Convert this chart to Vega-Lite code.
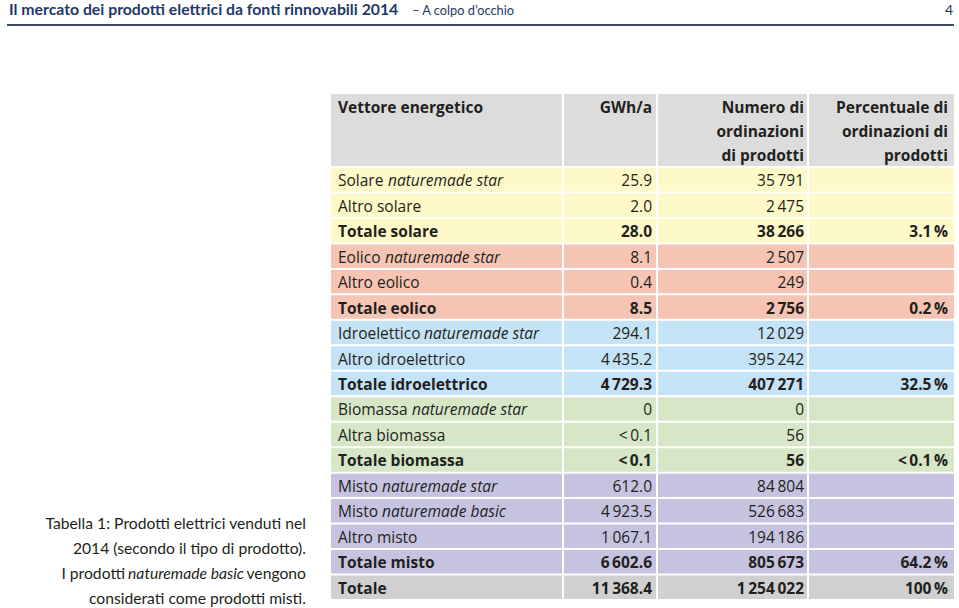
{
  "$schema": "https://vega.github.io/schema/vega-lite/v6.json",
  "padding": {"left": 6, "top": 0, "right": 0, "bottom": 0},
  "bounds": "flush",
  "spacing": 69,
  "config": {
    "view": {"stroke": null},
    "font": "Open Sans",
    "text": {"font": "Open Sans", "fontSize": 15.5, "color": "#231f20"},
    "locale": {"number": {"decimal": ".", "thousands": "\u2009", "grouping": [3], "currency": ["", ""]}}
  },
  "datasets": {
    "page": [{"title": "Il mercato dei prodotti elettrici da fonti rinnovabili 2014", "subtitle": "– A colpo d’occhio", "page": "4"}],
    "caption": [
      {"line": 1, "text": "Tabella 1: Prodotti elettrici venduti nel"},
      {"line": 2, "text": "2014 (secondo il tipo di prodotto)."},
      {"line": 3, "pre": "I prodotti", "brand": "naturemade basic", "post": "vengono"},
      {"line": 4, "text": "considerati come prodotti misti."}
    ],
    "headers": [
      {"col": "energy", "text": ["Vettore energetico"]},
      {"col": "gwh", "text": ["GWh/a"]},
      {"col": "orders", "text": ["Numero di", "ordinazioni", "di prodotti"]},
      {"col": "share", "text": ["Percentuale di", "ordinazioni di", "prodotti"]}
    ],
    "rows": [
      {"label": "Solare naturemade star", "group": "Solare", "kind": "item", "name": "Solare", "brand": "naturemade star", "gwh": 25.9, "orders": 35791},
      {"label": "Altro solare", "group": "Solare", "kind": "item", "name": "Altro solare", "gwh": 2.0, "orders": 2475},
      {"label": "Totale solare", "group": "Solare", "kind": "total", "name": "Totale solare", "gwh": 28.0, "orders": 38266, "share": 3.1},
      {"label": "Eolico naturemade star", "group": "Eolico", "kind": "item", "name": "Eolico", "brand": "naturemade star", "gwh": 8.1, "orders": 2507},
      {"label": "Altro eolico", "group": "Eolico", "kind": "item", "name": "Altro eolico", "gwh": 0.4, "orders": 249},
      {"label": "Totale eolico", "group": "Eolico", "kind": "total", "name": "Totale eolico", "gwh": 8.5, "orders": 2756, "share": 0.2},
      {"label": "Idroelettico naturemade star", "group": "Idroelettrico", "kind": "item", "name": "Idroelettico", "brand": "naturemade star", "gwh": 294.1, "orders": 12029},
      {"label": "Altro idroelettrico", "group": "Idroelettrico", "kind": "item", "name": "Altro idroelettrico", "gwh": 4435.2, "orders": 395242},
      {"label": "Totale idroelettrico", "group": "Idroelettrico", "kind": "total", "name": "Totale idroelettrico", "gwh": 4729.3, "orders": 407271, "share": 32.5},
      {"label": "Biomassa naturemade star", "group": "Biomassa", "kind": "item", "name": "Biomassa", "brand": "naturemade star", "gwh": 0, "orders": 0},
      {"label": "Altra biomassa", "group": "Biomassa", "kind": "item", "name": "Altra biomassa", "gwh": "<\u20090.1", "orders": 56},
      {"label": "Totale biomassa", "group": "Biomassa", "kind": "total", "name": "Totale biomassa", "gwh": "<\u20090.1", "orders": 56, "share": "<\u20090.1"},
      {"label": "Misto naturemade star", "group": "Misto", "kind": "item", "name": "Misto", "brand": "naturemade star", "gwh": 612.0, "orders": 84804},
      {"label": "Misto naturemade basic", "group": "Misto", "kind": "item", "name": "Misto", "brand": "naturemade basic", "gwh": 4923.5, "orders": 526683},
      {"label": "Altro misto", "group": "Misto", "kind": "item", "name": "Altro misto", "gwh": 1067.1, "orders": 194186},
      {"label": "Totale misto", "group": "Misto", "kind": "total", "name": "Totale misto", "gwh": 6602.6, "orders": 805673, "share": 64.2},
      {"label": "Totale", "group": "Totale", "kind": "total", "name": "Totale", "gwh": 11368.4, "orders": 1254022, "share": 100}
    ]
  },
  "vconcat": [
    {
      "width": 947, "height": 25,
      "data": {"name": "page"},
      "layer": [
        {"mark": {"type": "text", "align": "left", "baseline": "alphabetic", "dx": 2, "font": "Lato", "fontSize": 15.8, "fontWeight": "bold", "color": "#1f3a68"},
         "encoding": {"x": {"value": 0}, "y": {"value": 15}, "text": {"field": "title"}}},
        {"mark": {"type": "text", "align": "left", "baseline": "alphabetic", "dx": 405, "font": "Lato", "fontSize": 12.8, "fontWeight": "normal", "color": "#1f3a68"},
         "encoding": {"x": {"value": 0}, "y": {"value": 15}, "text": {"field": "subtitle"}}},
        {"mark": {"type": "text", "align": "right", "baseline": "alphabetic", "dx": -1, "font": "Lato", "fontSize": 14, "color": "#1f3a68"},
         "encoding": {"x": {"value": "width"}, "y": {"value": 15}, "text": {"field": "page"}}},
        {"mark": {"type": "rule", "color": "#3b4a6b", "strokeWidth": 2},
         "encoding": {"y": {"value": 25}}}
      ]
    },
    {
      "bounds": "flush",
      "spacing": 25,
      "hconcat": [
        {
          "width": 299, "height": 505,
          "data": {"name": "caption"},
          "encoding": {"y": {"field": "line", "type": "ordinal", "axis": null, "scale": {"type": "point", "range": [435, 510], "padding": 0}}},
          "layer": [
            {"transform": [{"filter": "datum.text"}],
             "mark": {"type": "text", "align": "right", "baseline": "alphabetic", "font": "Lato", "fontSize": 15.7},
             "encoding": {"x": {"value": "width"}, "text": {"field": "text"}}},
            {"transform": [{"filter": "datum.post"}],
             "mark": {"type": "text", "align": "right", "baseline": "alphabetic", "font": "Lato", "fontSize": 15.7},
             "encoding": {"x": {"value": "width"}, "text": {"field": "post"}}},
            {"transform": [{"filter": "datum.brand"}],
             "mark": {"type": "text", "align": "right", "baseline": "alphabetic", "font": "Lato", "fontSize": 15.7, "fontStyle": "italic", "dx": -62},
             "encoding": {"x": {"value": "width"}, "text": {"field": "brand"}}},
            {"transform": [{"filter": "datum.pre"}],
             "mark": {"type": "text", "align": "right", "baseline": "alphabetic", "font": "Lato", "fontSize": 15.7, "dx": -181},
             "encoding": {"x": {"value": "width"}, "text": {"field": "pre"}}}
          ]
        },
        {
          "spacing": 2,
          "vconcat": [
            {
              "spacing": 2,
              "hconcat": [
                {"width": 231, "height": 72, "view": {"fill": "#dcdcdc", "stroke": null},
                 "data": {"name": "headers"}, "transform": [{"filter": "datum.col == 'energy'"}],
                 "mark": {"type": "text", "align": "left", "baseline": "alphabetic", "fontWeight": "bold", "dx": 7, "lineHeight": 24},
                 "encoding": {"x": {"value": 0}, "y": {"value": 19}, "text": {"field": "text"}}},
                {"width": 92, "height": 72, "view": {"fill": "#dcdcdc", "stroke": null},
                 "data": {"name": "headers"}, "transform": [{"filter": "datum.col == 'gwh'"}],
                 "mark": {"type": "text", "align": "right", "baseline": "alphabetic", "fontWeight": "bold", "dx": -4, "lineHeight": 24},
                 "encoding": {"x": {"value": "width"}, "y": {"value": 19}, "text": {"field": "text"}}},
                {"width": 149, "height": 72, "view": {"fill": "#dcdcdc", "stroke": null},
                 "data": {"name": "headers"}, "transform": [{"filter": "datum.col == 'orders'"}],
                 "mark": {"type": "text", "align": "right", "baseline": "alphabetic", "fontWeight": "bold", "dx": -3, "lineHeight": 24},
                 "encoding": {"x": {"value": "width"}, "y": {"value": 19}, "text": {"field": "text"}}},
                {"width": 145, "height": 72, "view": {"fill": "#dcdcdc", "stroke": null},
                 "data": {"name": "headers"}, "transform": [{"filter": "datum.col == 'share'"}],
                 "mark": {"type": "text", "align": "right", "baseline": "alphabetic", "fontWeight": "bold", "dx": -6, "lineHeight": 24},
                 "encoding": {"x": {"value": "width"}, "y": {"value": 19}, "text": {"field": "text"}}}
              ]
            },
            {
              "spacing": 2,
              "hconcat": [
                {
                  "width": 231, "height": 431,
                  "data": {"name": "rows"},
                  "encoding": {"y": {"field": "label", "type": "nominal", "sort": null, "axis": null, "scale": {"paddingInner": 0.0785, "paddingOuter": 0}}},
                  "layer": [
                    {"mark": {"type": "rect"},
                     "encoding": {"x": {"value": 0}, "x2": {"value": "width"},
                       "color": {"field": "group", "type": "nominal", "legend": null,
                         "scale": {"domain": ["Solare", "Eolico", "Idroelettrico", "Biomassa", "Misto", "Totale"], "range": ["#fef9c8", "#f6c4b3", "#c5e3f6", "#d6e6c6", "#c6c3e0", "#d0d0d0"]}}}},
                    {"transform": [{"filter": "datum.kind == 'item'"}],
                     "mark": {"type": "text", "align": "left", "baseline": "middle", "dx": 7, "dy": 1.5},
                     "encoding": {"x": {"value": 0}, "text": {"field": "name"}}},
                    {"transform": [{"filter": "datum.kind == 'total'"}],
                     "mark": {"type": "text", "align": "left", "baseline": "middle", "dx": 7, "dy": 1.5, "fontWeight": "bold"},
                     "encoding": {"x": {"value": 0}, "text": {"field": "name"}}},
                    {"transform": [{"filter": "datum.brand && datum.name == 'Solare'"}],
                     "mark": {"type": "text", "align": "left", "baseline": "middle", "dx": 57, "dy": 1.5, "fontStyle": "italic"},
                     "encoding": {"x": {"value": 0}, "text": {"field": "brand"}}},
                    {"transform": [{"filter": "datum.brand && datum.name == 'Eolico'"}],
                     "mark": {"type": "text", "align": "left", "baseline": "middle", "dx": 54, "dy": 1.5, "fontStyle": "italic"},
                     "encoding": {"x": {"value": 0}, "text": {"field": "brand"}}},
                    {"transform": [{"filter": "datum.brand && datum.name == 'Idroelettico'"}],
                     "mark": {"type": "text", "align": "left", "baseline": "middle", "dx": 93, "dy": 1.5, "fontStyle": "italic"},
                     "encoding": {"x": {"value": 0}, "text": {"field": "brand"}}},
                    {"transform": [{"filter": "datum.brand && datum.name == 'Biomassa'"}],
                     "mark": {"type": "text", "align": "left", "baseline": "middle", "dx": 81, "dy": 1.5, "fontStyle": "italic"},
                     "encoding": {"x": {"value": 0}, "text": {"field": "brand"}}},
                    {"transform": [{"filter": "datum.brand && datum.name == 'Misto'"}],
                     "mark": {"type": "text", "align": "left", "baseline": "middle", "dx": 51, "dy": 1.5, "fontStyle": "italic"},
                     "encoding": {"x": {"value": 0}, "text": {"field": "brand"}}}
                  ]
                },
                {
                  "width": 92, "height": 431,
                  "data": {"name": "rows"},
                  "transform": [{"calculate": "isNumber(datum.gwh) ? (datum.gwh == 0 ? '0' : format(datum.gwh, ',.1f')) : datum.gwh", "as": "gwhText"}],
                  "encoding": {"y": {"field": "label", "type": "nominal", "sort": null, "axis": null, "scale": {"paddingInner": 0.0785, "paddingOuter": 0}}},
                  "layer": [
                    {"mark": {"type": "rect"},
                     "encoding": {"x": {"value": 0}, "x2": {"value": "width"},
                       "color": {"field": "group", "type": "nominal", "legend": null,
                         "scale": {"domain": ["Solare", "Eolico", "Idroelettrico", "Biomassa", "Misto", "Totale"], "range": ["#fef9c8", "#f6c4b3", "#c5e3f6", "#d6e6c6", "#c6c3e0", "#d0d0d0"]}}}},
                    {"transform": [{"filter": "datum.kind == 'item'"}],
                     "mark": {"type": "text", "align": "right", "baseline": "middle", "dx": -4, "dy": 1.5},
                     "encoding": {"x": {"value": "width"}, "text": {"field": "gwhText"}}},
                    {"transform": [{"filter": "datum.kind == 'total'"}],
                     "mark": {"type": "text", "align": "right", "baseline": "middle", "dx": -4, "dy": 1.5, "fontWeight": "bold"},
                     "encoding": {"x": {"value": "width"}, "text": {"field": "gwhText"}}}
                  ]
                },
                {
                  "width": 149, "height": 431,
                  "data": {"name": "rows"},
                  "encoding": {"y": {"field": "label", "type": "nominal", "sort": null, "axis": null, "scale": {"paddingInner": 0.0785, "paddingOuter": 0}}},
                  "layer": [
                    {"mark": {"type": "rect"},
                     "encoding": {"x": {"value": 0}, "x2": {"value": "width"},
                       "color": {"field": "group", "type": "nominal", "legend": null,
                         "scale": {"domain": ["Solare", "Eolico", "Idroelettrico", "Biomassa", "Misto", "Totale"], "range": ["#fef9c8", "#f6c4b3", "#c5e3f6", "#d6e6c6", "#c6c3e0", "#d0d0d0"]}}}},
                    {"transform": [{"filter": "datum.kind == 'item'"}],
                     "mark": {"type": "text", "align": "right", "baseline": "middle", "dx": -3, "dy": 1.5},
                     "encoding": {"x": {"value": "width"}, "text": {"field": "orders", "type": "quantitative", "format": ","}}},
                    {"transform": [{"filter": "datum.kind == 'total'"}],
                     "mark": {"type": "text", "align": "right", "baseline": "middle", "dx": -3, "dy": 1.5, "fontWeight": "bold"},
                     "encoding": {"x": {"value": "width"}, "text": {"field": "orders", "type": "quantitative", "format": ","}}}
                  ]
                },
                {
                  "width": 145, "height": 431,
                  "data": {"name": "rows"},
                  "transform": [{"calculate": "datum.share == null ? '' : (isNumber(datum.share) ? (datum.share == 100 ? '100' : format(datum.share, '.1f')) : datum.share) + '\u2009%'", "as": "shareText"}],
                  "encoding": {"y": {"field": "label", "type": "nominal", "sort": null, "axis": null, "scale": {"paddingInner": 0.0785, "paddingOuter": 0}}},
                  "layer": [
                    {"mark": {"type": "rect"},
                     "encoding": {"x": {"value": 0}, "x2": {"value": "width"},
                       "color": {"field": "group", "type": "nominal", "legend": null,
                         "scale": {"domain": ["Solare", "Eolico", "Idroelettrico", "Biomassa", "Misto", "Totale"], "range": ["#fef9c8", "#f6c4b3", "#c5e3f6", "#d6e6c6", "#c6c3e0", "#d0d0d0"]}}}},
                    {"transform": [{"filter": "datum.kind == 'total'"}],
                     "mark": {"type": "text", "align": "right", "baseline": "middle", "dx": -6, "dy": 1.5, "fontWeight": "bold"},
                     "encoding": {"x": {"value": "width"}, "text": {"field": "shareText"}}}
                  ]
                }
              ]
            }
          ]
        }
      ]
    }
  ]
}
